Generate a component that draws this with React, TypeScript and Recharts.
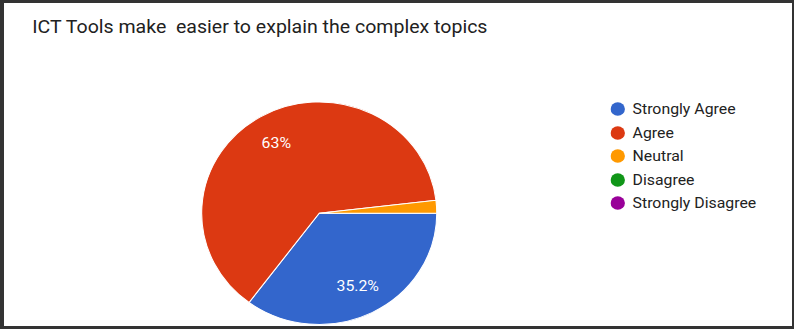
import React from "react";
import { PieChart, Pie, Cell, Legend } from "recharts";

const categories = ["Strongly Agree", "Agree", "Neutral", "Disagree", "Strongly Disagree"];
const responses = [19, 34, 1, 0, 0];
const colors = ["#3366cc", "#dc3912", "#ff9900", "#109618", "#990099"];
const title = "ICT Tools make  easier to explain the complex topics";

const data = categories.map((name, i) => ({ name, value: responses[i] }));

const SX = 1.056;
const W = 795 / SX;
const H = 329;
const FONT = "Roboto, Arial, sans-serif";
const RAD = Math.PI / 180;

const renderLabel = (props: any) => {
  const { cx, cy, midAngle, outerRadius, percent } = props;
  if (!percent || percent < 0.05) return null;
  const r = outerRadius * 0.73;
  const x = cx + Math.cos(-midAngle * RAD) * r;
  const y = cy + Math.sin(-midAngle * RAD) * r;
  const txt = `${Math.round(percent * 1000) / 10}%`;
  return (
    <text x={x} y={y} fill="#ffffff" fontSize={15} fontFamily={FONT} textAnchor="middle" dominantBaseline="central">
      {txt}
    </text>
  );
};

const LegendContent = () => (
  <div style={{ fontFamily: FONT, fontSize: 15, color: "#222" }}>
    {categories.map((c, i) => (
      <div key={c} style={{ display: "flex", alignItems: "center", height: 23.5 }}>
        <svg width={14} height={14} style={{ marginRight: 7 }}>
          <circle cx={7} cy={7} r={6.8} fill={colors[i]} />
        </svg>
        <span>{c}</span>
      </div>
    ))}
  </div>
);

export default function App() {
  return (
    <div style={{ position: "absolute", left: 0, top: 0, width: 795, height: 329, background: "#fff", overflow: "hidden" }}>
      <div
        style={{
          position: "absolute",
          left: 0,
          top: 0,
          width: W,
          height: H,
          transform: `scaleX(${SX})`,
          transformOrigin: "0 0",
        }}
      >
        <div
          style={{
            position: "absolute",
            left: 30.6,
            top: 14,
            fontFamily: FONT,
            fontSize: 18.5,
            color: "#212121",
            whiteSpace: "pre",
            lineHeight: "26px",
          }}
        >
          {title}
        </div>
        <PieChart
          width={W}
          height={H}
          margin={{ top: 0, right: 0, bottom: 0, left: 0 }}
          style={{ position: "absolute", left: 0, top: 0 }}
        >
          <Pie
            data={data}
            dataKey="value"
            nameKey="name"
            cx={302.3}
            cy={213.2}
            outerRadius={111.3}
            startAngle={0}
            endAngle={-360}
            stroke="#ffffff"
            strokeWidth={1}
            label={renderLabel}
            labelLine={false}
            isAnimationActive={false}
          >
            {data.map((d, i) => (
              <Cell key={d.name} fill={colors[i]} />
            ))}
          </Pie>
          <Legend
            layout="vertical"
            content={<LegendContent />}
            wrapperStyle={{ position: "absolute", left: 578, top: 97.5, width: 160 }}
          />
        </PieChart>
      </div>
      <div
        style={{
          position: "absolute",
          left: 0,
          top: 0,
          width: 794,
          height: 329,
          boxSizing: "border-box",
          borderLeft: "4px solid #333",
          borderTop: "3px solid #333",
          borderRight: "2px solid #333",
          borderBottom: "3px solid #333",
          pointerEvents: "none",
        }}
      />
    </div>
  );
}
